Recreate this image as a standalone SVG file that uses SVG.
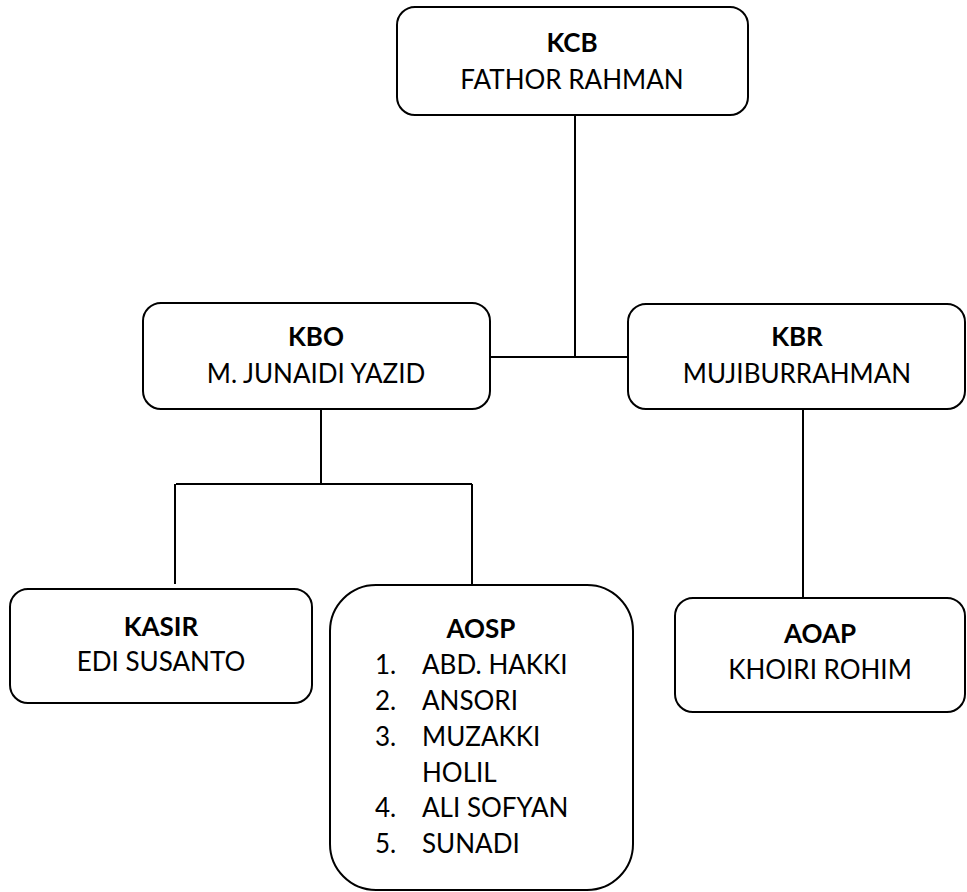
<svg xmlns="http://www.w3.org/2000/svg" width="967" height="892" viewBox="0 0 967 892">
<style>
  .box { fill: #ffffff; stroke: #000000; stroke-width: 2; }
  .conn line { stroke: #000000; stroke-width: 2; }
  text { font-family: Lato, "Open Sans", "Liberation Sans", sans-serif; font-size: 26px; fill: #000000; }
  .t { font-weight: bold; text-anchor: middle; }
  .n { text-anchor: middle; }
</style>
<rect width="967" height="892" fill="#ffffff"/>
<g class="conn" id="connectors">
  <line x1="575" y1="115" x2="575" y2="357"/>
  <line x1="490" y1="357" x2="628" y2="357"/>
  <line x1="321" y1="409" x2="321" y2="484"/>
  <line x1="176" y1="484" x2="472" y2="484"/>
  <line x1="175" y1="484" x2="175" y2="584"/>
  <line x1="472" y1="484" x2="472" y2="585"/>
  <line x1="803" y1="409" x2="803" y2="598"/>
</g>
<g id="kcb">
  <rect class="box" x="397" y="7" width="351" height="108" rx="18"/>
  <text class="t" x="572" y="52">KCB</text>
  <text class="n" x="572" y="89">FATHOR RAHMAN</text>
</g>
<g id="kbo">
  <rect class="box" x="143" y="303" width="347" height="106" rx="18"/>
  <text class="t" x="316" y="346">KBO</text>
  <text class="n" x="316" y="383">M. JUNAIDI YAZID</text>
</g>
<g id="kbr">
  <rect class="box" x="628" y="304" width="337" height="105" rx="18"/>
  <text class="t" x="797" y="346">KBR</text>
  <text class="n" x="797" y="383">MUJIBURRAHMAN</text>
</g>
<g id="kasir">
  <rect class="box" x="10" y="589" width="302" height="114" rx="18"/>
  <text class="t" x="161" y="636">KASIR</text>
  <text class="n" x="161" y="671">EDI SUSANTO</text>
</g>
<g id="aosp">
  <rect class="box" x="330" y="585" width="303" height="305" rx="46"/>
  <text class="t" x="481" y="638">AOSP</text>
  <text x="375" y="674">1.</text><text x="422" y="674">ABD. HAKKI</text>
  <text x="375" y="710">2.</text><text x="422" y="710">ANSORI</text>
  <text x="375" y="746">3.</text><text x="422" y="746">MUZAKKI</text>
  <text x="422" y="782">HOLIL</text>
  <text x="375" y="817">4.</text><text x="422" y="817">ALI SOFYAN</text>
  <text x="375" y="853">5.</text><text x="422" y="853">SUNADI</text>
</g>
<g id="aoap">
  <rect class="box" x="675" y="598" width="290" height="114" rx="18"/>
  <text class="t" x="820" y="643">AOAP</text>
  <text class="n" x="820" y="679">KHOIRI ROHIM</text>
</g>
</svg>
